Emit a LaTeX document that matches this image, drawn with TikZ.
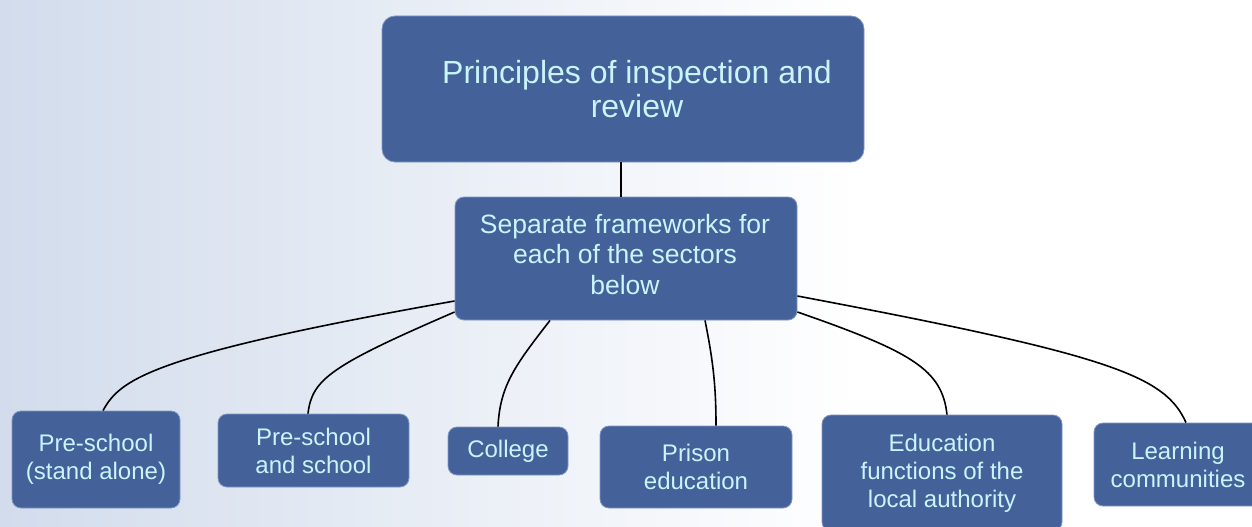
\documentclass[tikz,border=0pt]{standalone}
\usepackage{fontspec}
\setmainfont{Liberation Sans}
\usetikzlibrary{calc}
\definecolor{boxblue}{HTML}{44619A}
\definecolor{boxedge}{HTML}{7F97C4}
\definecolor{txtcyan}{HTML}{C8F5FA}
\definecolor{bgleft}{HTML}{D2DCEC}
\begin{document}
\begin{tikzpicture}[x=1pt,y=-1pt,
  box/.style={fill=boxblue, draw=boxedge, line width=0.8pt, rounded corners=9pt,
    text=txtcyan, align=center, inner sep=0pt},
  label/.style={text=txtcyan, align=center, inner sep=0pt},
  big/.style={font=\fontsize{32}{34}\selectfont},
  mid/.style={font=\fontsize{26.5}{30.5}\selectfont},
  small/.style={font=\fontsize{24}{28}\selectfont},
  conn/.style={draw=black, line width=1.6pt}]
\useasboundingbox (0,0) rectangle (1252,527);
\clip (0,0) rectangle (1252,527);
\shade[left color=bgleft, right color=white] (0,0) rectangle (860,527);
\fill[white] (860,0) rectangle (1252,527);

\node[box, rounded corners=13pt, minimum width=482pt, minimum height=146pt] (top) at (623,89) {};
\node[label, big] (toptext) at (637,89) {Principles of inspection and\\review};

\node[box, minimum width=342pt, minimum height=123pt] (midb) at (626,258.5) {};
\node[label, mid] (midtext) at (625,254.5) {Separate frameworks for\\each of the sectors\\below};

\node[box, small, minimum width=168pt, minimum height=97pt] (b1) at (96,459.5) {Pre-school\\(stand alone)};
\node[box, small, minimum width=191pt, minimum height=73pt] (b2) at (313.5,450.5) {Pre-school\\and school};
\node[box, small, minimum width=120pt, minimum height=48pt] (b3) at (508,451) {College};
\node[box, small, minimum width=192pt, minimum height=82pt] (b4) at (696,467) {Prison\\education};
\node[box, small, minimum width=240pt, minimum height=116pt] (b5) at (942,473) {Education\\functions of the\\local authority};
\node[box, small, minimum width=168pt, minimum height=83pt] (b6) at (1178,464.5) {Learning\\communities};

\coordinate (topfoot) at ($(top.south)+(-2,0)$);
\draw[conn] (topfoot) -- (topfoot |- midb.north);

\draw[conn] ($(midb.west)+(0,42.5)$) .. controls +(-305,54) and +(17,-31) .. ($(b1.north)+(7,0)$);
\draw[conn] ($(midb.west)+(0,53.5)$) .. controls +(-125,54) and +(4,-34) .. ($(b2.north)+(-5.5,0)$);
\draw[conn] ($(midb.south)+(-76,0)$) .. controls +(-35,45) and +(2,-41) .. ($(b3.north)+(-10,0)$);
\draw[conn] ($(midb.south)+(79,0)$) .. controls +(8,40) and +(0,-40) .. ($(b4.north)+(20,0)$);
\draw[conn] ($(midb.east)+(0,53.5)$) .. controls +(115,40) and +(-5,-45) .. ($(b5.north)+(5,0)$);
\draw[conn] ($(midb.east)+(0,37.5)$) .. controls +(313,59) and +(-21,-47) .. ($(b6.north)+(8,0)$);
\end{tikzpicture}
\end{document}
